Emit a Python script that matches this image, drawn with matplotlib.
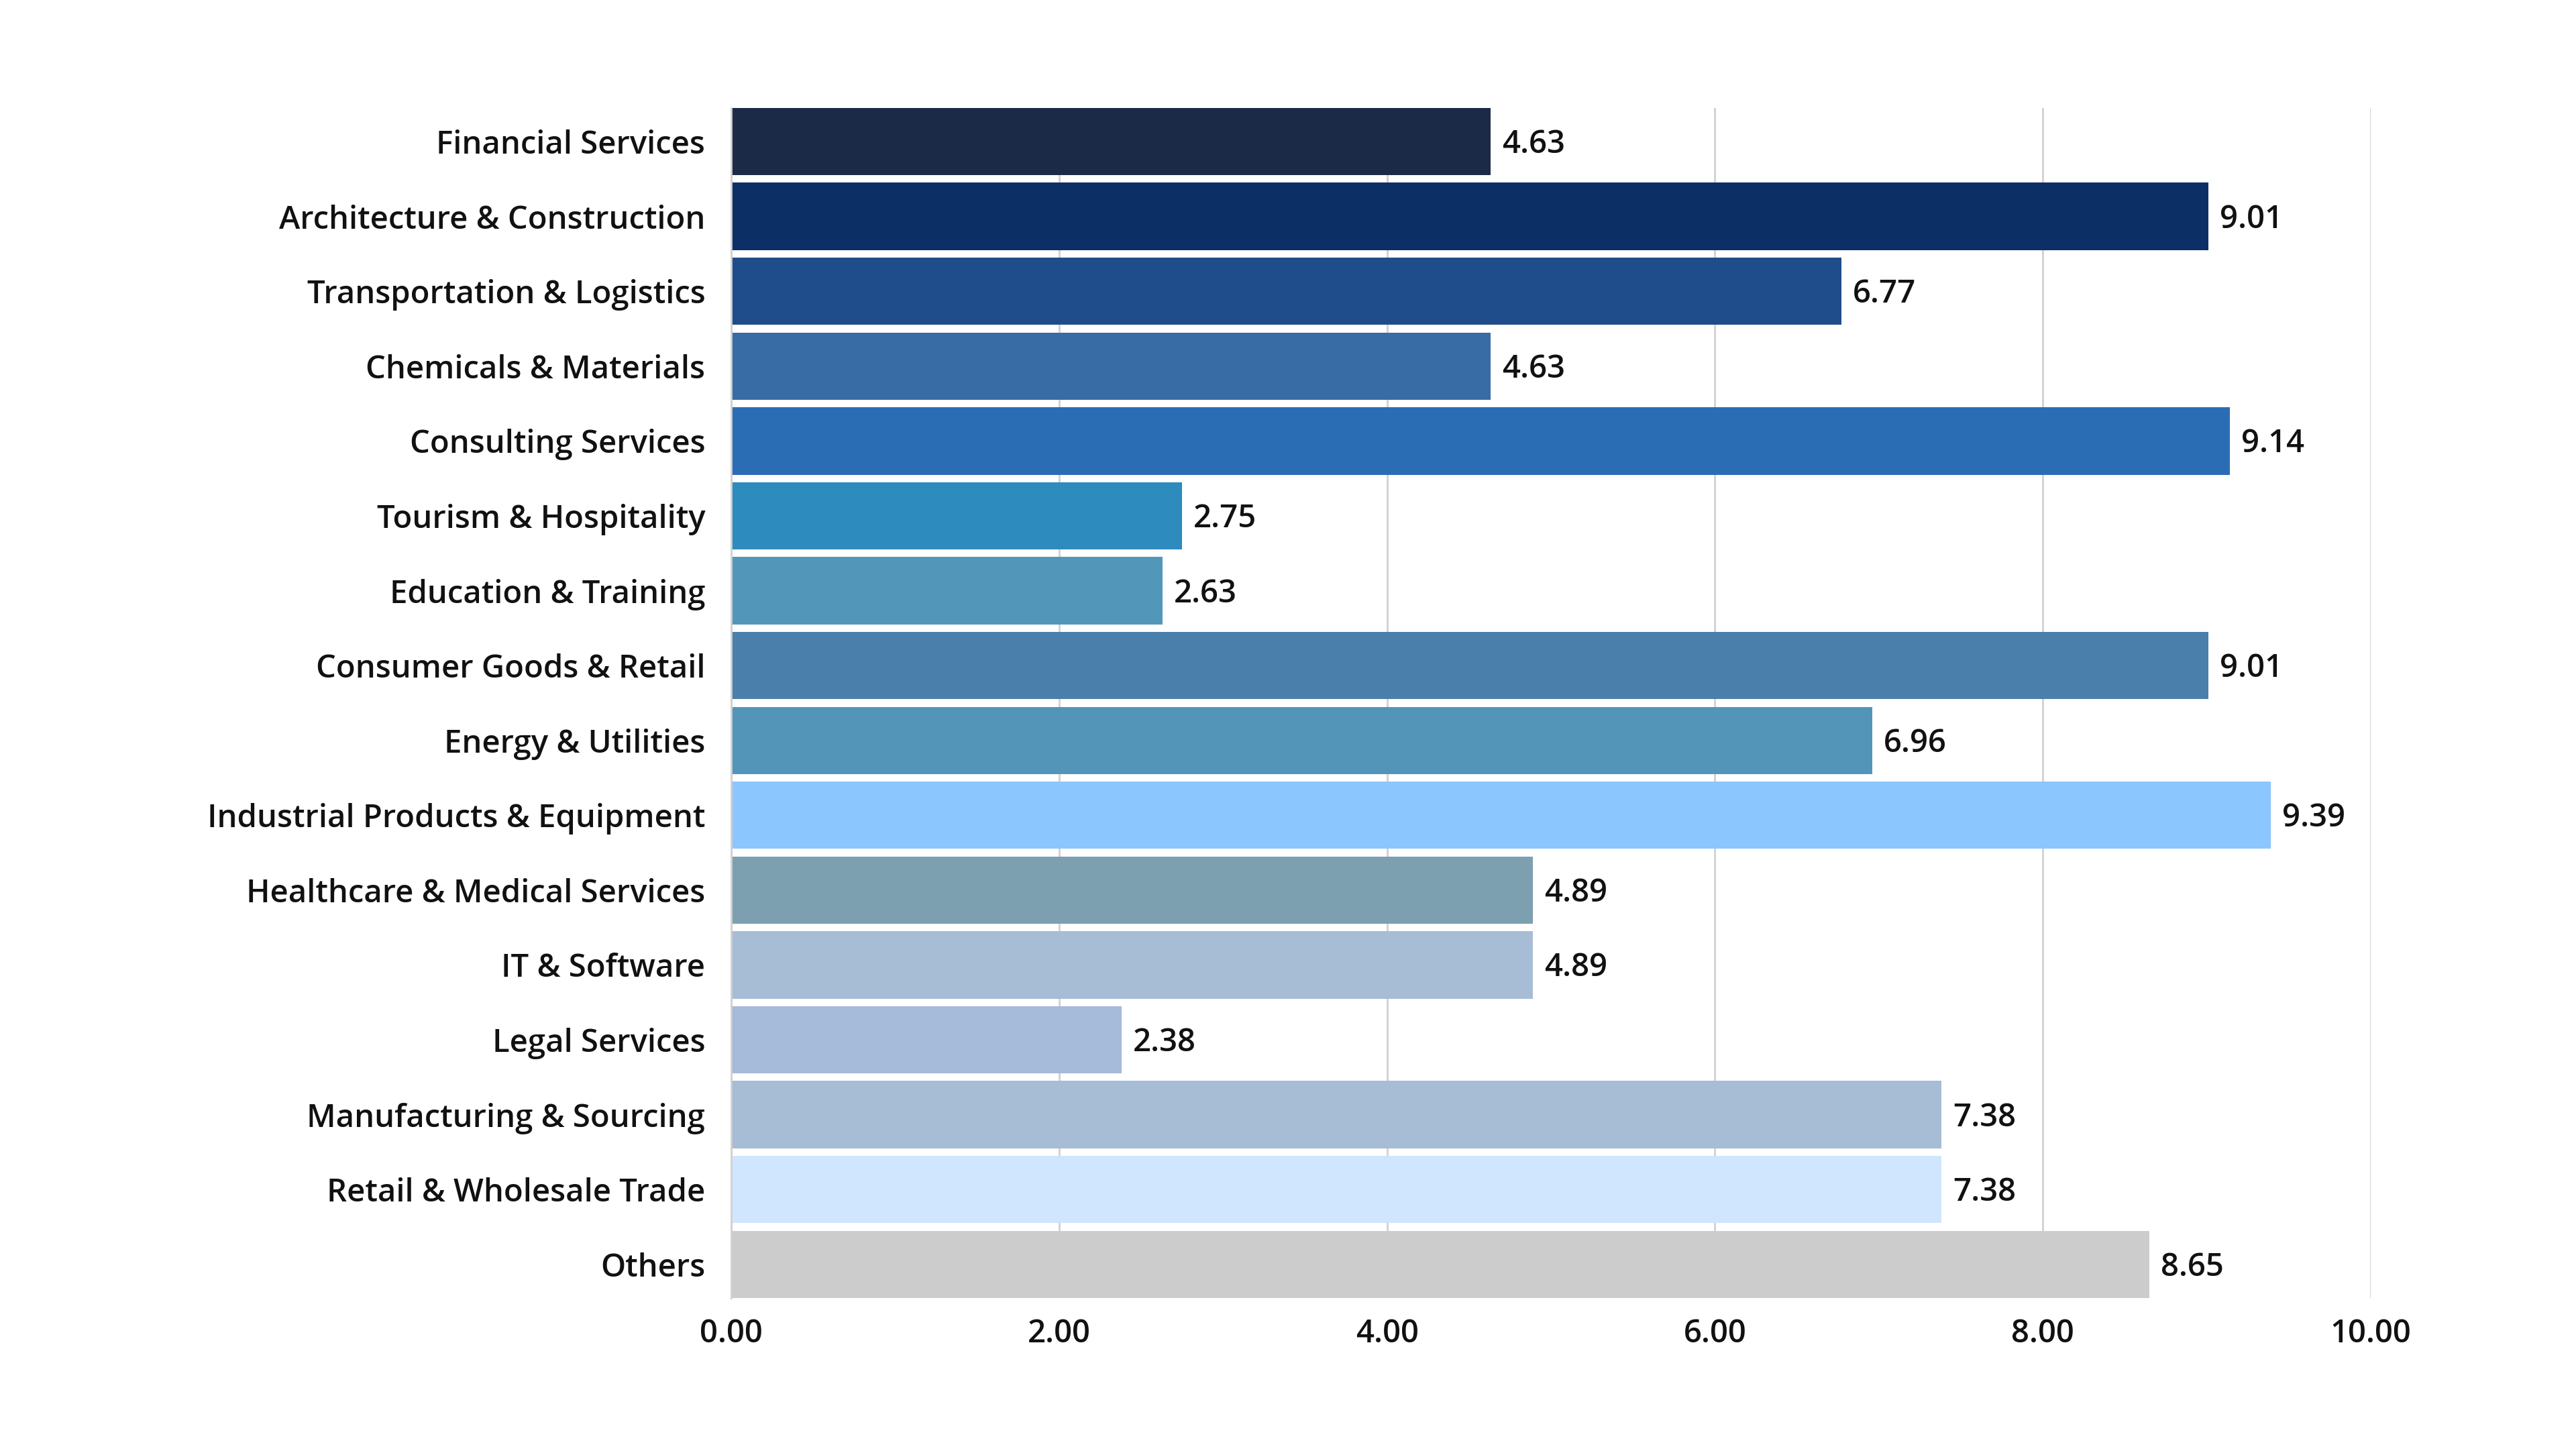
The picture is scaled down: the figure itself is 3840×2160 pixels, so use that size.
import matplotlib
matplotlib.use("Agg")
import matplotlib.pyplot as plt

# categories, top to bottom
categories = [
    "Financial Services", "Architecture & Construction", "Transportation & Logistics",
    "Chemicals & Materials", "Consulting Services", "Tourism & Hospitality",
    "Education & Training", "Consumer Goods & Retail", "Energy & Utilities",
    "Industrial Products & Equipment", "Healthcare & Medical Services", "IT & Software",
    "Legal Services", "Manufacturing & Sourcing", "Retail & Wholesale Trade", "Others",
]
values = [4.63, 9.01, 6.77, 4.63, 9.14, 2.75, 2.63, 9.01, 6.96, 9.39,
          4.89, 4.89, 2.38, 7.38, 7.38, 8.65]
colors = ["#1b2a47", "#0c2f66", "#1f4c8a", "#376ca5", "#2b6db4", "#2e8bbd",
          "#5297ba", "#4a7fac", "#5395b9", "#8cc6fe", "#7ca0b0", "#a7bdd5",
          "#a6bad9", "#a7bcd5", "#d0e6fe", "#cccccc"]
xticks = [0, 2, 4, 6, 8, 10]

plt.rcParams['font.family'] = ['Open Sans', 'DejaVu Sans']

fig = plt.figure(figsize=(38.4, 21.6), dpi=100)
ax = fig.add_axes([0.2839, 0.1042, 0.6364, 0.8213])

ypos = list(range(len(categories)))
ax.barh(ypos, values, height=0.9, color=colors, zorder=2)

for y, v in zip(ypos, values):
    ax.text(v + 0.07, y + 0.04, f"{v:.2f}", va='center', ha='left',
            fontsize=34, fontweight='semibold', color='#111111')

ax.set_ylim(len(categories) - 0.55, -0.45)
ax.set_xlim(0, 10)
ax.set_yticks(ypos)
ax.set_yticklabels(categories)
ax.set_xticks(xticks)
ax.set_xticklabels([f"{t:.2f}" for t in xticks])
ax.tick_params(axis='both', length=0, labelsize=34, colors='#111111')
ax.tick_params(axis='y', pad=28)
ax.tick_params(axis='x', pad=22)
for lab in ax.get_xticklabels() + ax.get_yticklabels():
    lab.set_fontweight('semibold')

ax.grid(axis='x', color='#d0d0d0', linewidth=2, zorder=0)
ax.set_axisbelow(True)
for s in ['top', 'right', 'bottom']:
    ax.spines[s].set_visible(False)
ax.spines['left'].set_color('#d0d0d0')
ax.spines['left'].set_linewidth(2)

fig.savefig("out.png", dpi=100, facecolor='white')
